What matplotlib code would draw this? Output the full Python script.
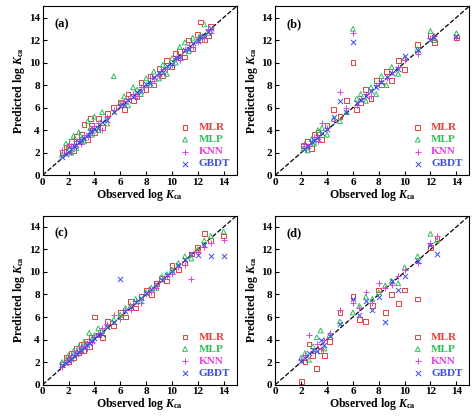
import matplotlib.pyplot as plt

plt.rcParams['font.family'] = ['Liberation Serif', 'DejaVu Serif']
plt.rcParams['mathtext.fontset'] = 'custom'
plt.rcParams['mathtext.it'] = 'Liberation Serif:italic:bold'
plt.rcParams['mathtext.rm'] = 'Liberation Serif:bold'

models = ["MLR", "MLP", "KNN", "GBDT"]
colors = ["#e8403a", "#2fbf5a", "#e23fe0", "#3a4fe8"]
markers = ["s", "^", "+", "x"]

# panel (a)
obs_a = [1.5,1.8,2.0,2.2,2.4,2.6,2.8,3.0,3.2,3.5,3.8,4.0,4.3,4.6,5.0,5.5,6.0,6.3,6.6,7.0,7.3,7.6,8.0,8.3,8.6,9.0,9.3,9.6,10.0,10.3,10.6,11.0,11.3,11.6,12.0,12.2,12.5,12.8,13.0,3.7]
mlr_a = [2.0,2.5,2.3,3.0,2.2,3.4,3.0,3.6,4.5,3.2,4.4,3.8,5.0,4.2,5.5,6.0,6.5,5.8,7.2,6.6,7.0,8.2,7.6,8.8,8.0,9.5,8.8,10.2,9.6,10.8,11.0,10.5,12.0,11.2,12.5,13.6,12.0,12.4,13.2,5.0]
mlp_a = [1.8,2.8,2.6,2.0,3.5,2.4,3.8,3.2,3.0,4.8,3.6,5.2,4.0,5.6,4.6,8.8,6.4,7.0,6.2,7.8,7.6,7.2,8.6,8.0,9.2,8.6,9.8,9.0,10.4,10.0,11.4,11.8,11.0,12.2,12.0,12.4,13.4,12.6,12.8,4.2]
knn_a = [2.2,2.0,2.8,2.6,2.4,3.0,3.2,2.8,3.6,3.4,4.0,4.4,4.6,4.0,5.2,5.8,6.2,6.6,6.8,7.2,7.0,7.8,8.0,8.6,8.4,8.8,9.4,9.4,9.8,10.4,10.2,11.2,11.6,11.4,11.8,12.2,12.2,13.0,12.6,3.6]
gbdt_a = [1.6,1.9,2.1,2.3,2.6,2.7,2.9,3.1,3.3,3.6,3.9,4.1,4.2,4.7,4.9,5.6,6.1,6.2,6.7,6.9,7.4,7.5,8.1,8.2,8.7,9.1,9.2,9.7,9.9,10.4,10.5,11.1,11.2,11.7,11.9,12.3,12.4,12.7,13.1,3.9]

# panel (b)
obs_b = [2.2,2.5,2.8,3.0,3.3,3.6,4.0,4.5,5.0,5.5,6.0,6.3,6.6,7.0,7.4,7.8,8.2,8.6,9.0,9.5,10.0,11.0,12.0,12.3,14.0]
mlr_b = [2.6,3.0,2.4,3.6,3.8,3.2,4.4,5.8,5.2,6.6,10.0,5.8,6.4,7.6,6.8,8.4,8.0,9.2,8.4,10.2,9.4,11.6,12.4,11.8,12.2]
mlp_b = [2.4,2.2,3.2,2.8,4.0,4.2,3.6,5.0,4.8,5.6,13.0,6.8,7.2,6.6,7.8,7.2,8.8,8.0,9.6,9.0,10.4,11.2,12.8,12.0,12.6]
knn_b = [2.8,2.6,3.0,3.4,3.0,4.6,4.2,4.8,7.4,6.0,12.6,6.2,6.8,7.2,7.0,8.0,8.4,8.6,9.2,9.6,10.2,10.8,12.2,12.4,12.2]
gbdt_b = [2.3,2.6,2.9,3.1,3.4,3.7,4.1,5.2,6.6,5.6,11.8,6.4,6.7,7.0,7.5,7.8,8.3,8.7,9.1,9.4,10.6,11.1,12.0,12.3,12.4]

# panel (c)
obs_c = [1.5,1.8,2.0,2.2,2.4,2.6,2.8,3.0,3.2,3.4,3.6,3.8,4.0,4.3,4.6,5.0,5.5,6.0,6.4,6.8,7.2,7.6,8.0,8.4,8.8,9.2,9.6,10.0,10.5,11.0,11.5,12.0,12.5,13.0,14.0]
mlr_c = [1.8,2.4,2.0,2.8,2.4,3.2,2.8,3.6,3.0,3.8,3.4,4.2,6.0,4.4,4.2,5.6,5.2,6.4,6.0,7.4,6.8,7.8,8.4,8.0,9.0,9.4,9.2,10.6,10.2,10.8,11.6,12.2,13.4,12.8,13.2]
mlp_c = [2.0,2.2,2.6,2.4,3.0,2.8,3.4,3.2,3.8,3.6,4.6,4.0,4.4,5.0,4.8,5.2,5.8,6.2,6.8,7.0,7.6,7.4,8.2,8.6,8.6,9.6,9.8,10.2,10.8,11.4,11.2,12.0,12.8,13.2,13.6]
knn_c = [1.6,2.0,2.4,2.6,2.6,3.0,3.0,3.4,3.4,3.2,3.8,3.8,4.2,4.6,5.0,5.4,6.2,5.8,6.6,6.6,7.4,7.2,8.0,8.2,8.6,9.4,9.6,9.8,10.4,10.6,9.4,11.8,12.2,12.6,12.8]
gbdt_c = [1.7,1.9,2.1,2.3,2.5,2.7,2.9,3.1,3.3,3.5,3.7,3.9,4.1,4.4,4.5,5.1,5.6,9.4,6.5,6.9,7.3,7.7,8.1,8.5,8.9,9.3,9.7,10.1,10.6,11.1,11.6,11.5,12.4,11.4,11.4]

# panel (d)
obs_d = [2.0,2.3,2.6,2.9,3.2,3.5,3.8,4.2,5.0,6.0,6.5,7.0,7.5,8.0,8.5,9.0,9.5,10.0,11.0,12.0,12.5]
mlr_d = [0.3,2.0,3.6,2.6,1.4,3.0,2.6,3.8,6.4,7.8,5.8,5.6,7.0,8.4,6.4,8.0,7.2,8.4,7.6,12.2,13.0]
mlp_d = [2.4,2.8,2.2,3.4,4.2,4.8,3.2,4.4,5.6,6.4,7.0,7.8,7.6,8.2,8.8,9.2,9.0,10.4,11.4,13.4,12.8]
knn_d = [2.2,2.6,4.4,3.0,3.6,3.2,4.0,4.6,6.6,7.2,6.8,8.2,7.2,9.0,8.6,8.8,9.6,10.2,10.8,12.6,13.2]
gbdt_d = [2.1,2.4,2.8,3.1,3.0,4.0,3.5,4.3,5.4,7.6,6.2,7.4,6.6,7.8,5.6,9.2,8.4,9.6,11.0,12.4,11.6]

panels = [("(a)", obs_a, [mlr_a, mlp_a, knn_a, gbdt_a]),
          ("(b)", obs_b, [mlr_b, mlp_b, knn_b, gbdt_b]),
          ("(c)", obs_c, [mlr_c, mlp_c, knn_c, gbdt_c]),
          ("(d)", obs_d, [mlr_d, mlp_d, knn_d, gbdt_d])]

fig, axes = plt.subplots(2, 2, figsize=(4.74, 4.18), dpi=100)
plt.subplots_adjust(left=0.09, right=0.99, top=0.985, bottom=0.08, wspace=0.2, hspace=0.24)

for ax, (tag, obs, preds) in zip(axes.flat, panels):
    ax.plot([0, 15], [0, 15], 'k--', lw=0.9, zorder=1)
    for name, p, c, m in zip(models, preds, colors, markers):
        if m in ("+", "x"):
            ax.scatter(obs, p, marker=m, color=c, s=14, lw=0.7, label=name)
        else:
            ax.scatter(obs, p, marker=m, facecolors='none', edgecolors=c, s=12, lw=0.7, label=name)
    ax.set_xlim(0, 15)
    ax.set_ylim(0, 15)
    ax.set_xticks(range(0, 15, 2))
    ax.set_yticks(range(0, 15, 2))
    ax.tick_params(labelsize=8, direction='in', length=3, top=False, right=False, pad=2)
    for lab in ax.get_xticklabels() + ax.get_yticklabels():
        lab.set_fontweight('bold')
    ax.set_xlabel(r'Observed log $K_{\rm ca}$', fontsize=8.5, fontweight='bold', labelpad=0)
    ax.set_ylabel(r'Predicted log $K_{\rm ca}$', fontsize=8.5, fontweight='bold', labelpad=1)
    ax.text(0.06, 0.93, tag, transform=ax.transAxes, fontsize=9, fontweight='bold', va='top')
    leg = ax.legend(loc='lower right', frameon=False, handletextpad=0.2,
                    borderaxespad=0.2, labelspacing=0.2, prop={'weight': 'bold', 'size': 8})
    for t, c in zip(leg.get_texts(), colors):
        t.set_color(c)

fig.savefig("out.png", dpi=100)
